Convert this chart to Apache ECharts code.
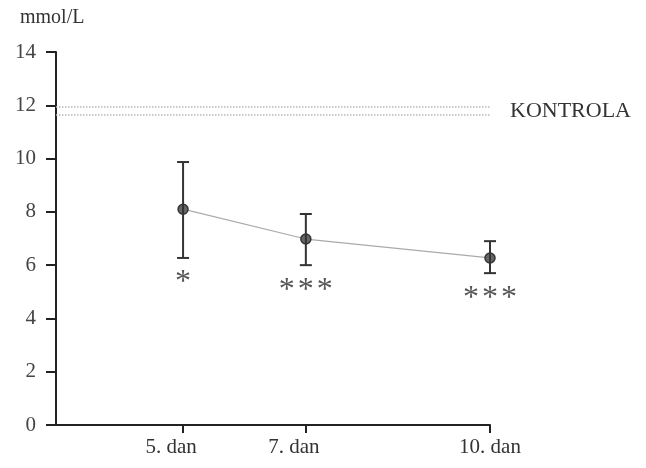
<!DOCTYPE html>
<html>
<head>
<meta charset="utf-8">
<script src="https://cdn.jsdelivr.net/npm/echarts@6/dist/echarts.min.js"></script>
<style>html,body{margin:0;padding:0;background:#fff}#c{width:646px;height:468px}</style>
</head>
<body>
<div id="c"></div>
<script>
// Data
var days = [5, 7, 10];
var dayLabels = ['5. dan', '7. dan', '10. dan'];
var means = [8.1, 6.98, 6.27];
var lows = [6.27, 6.0, 5.7];
var highs = [9.87, 7.92, 6.9];
var stars = ['*', '***', '***'];
var controlUpper = 11.93;
var controlLower = 11.66;
var controlLabel = 'KONTROLA';
var yTicks = [0, 2, 4, 6, 8, 10, 12, 14];

var FONT = 'Liberation Serif';
var labelShift = {5: 24, 7: 24, 10: 0};

var meanData = days.map(function (d, i) { return [d, means[i]]; });
var errData = days.map(function (d, i) { return [d, lows[i], highs[i]]; });
var starData = days.map(function (d, i) { return [d, lows[i], i]; });

var chart = echarts.init(document.getElementById('c'));
chart.setOption({
  animation: false,
  backgroundColor: '#fff',
  title: {
    text: 'mmol/L', left: 15, top: 3,
    textStyle: { fontFamily: FONT, fontSize: 20, fontWeight: 'normal', color: '#333' }
  },
  grid: { left: 56, right: 156, top: 52, bottom: 43, containLabel: false },
  xAxis: {
    type: 'value', min: 2.93, max: 10,
    axisLine: { lineStyle: { color: '#222', width: 2 } },
    axisTick: { show: true, customValues: days, length: 8, lineStyle: { color: '#222', width: 2 } },
    axisLabel: {
      customValues: days, margin: 12,
      formatter: function (v) { var i = days.indexOf(v); return '{a' + v + '|' + dayLabels[i] + '}'; },
      rich: {
        a5: { fontFamily: FONT, fontSize: 21, color: '#333', padding: [0, labelShift[5], 0, 0] },
        a7: { fontFamily: FONT, fontSize: 21, color: '#333', padding: [0, labelShift[7], 0, 0] },
        a10: { fontFamily: FONT, fontSize: 21, color: '#333', padding: [0, labelShift[10], 0, 0] }
      }
    },
    splitLine: { show: false }
  },
  yAxis: {
    type: 'value', min: 0, max: 14, interval: 2,
    axisLine: { show: true, lineStyle: { color: '#222', width: 2 } },
    axisTick: { show: true, length: 10, lineStyle: { color: '#222', width: 2 } },
    axisLabel: { margin: 20, fontFamily: FONT, fontSize: 21, color: '#444' },
    splitLine: { show: false }
  },
  series: [
    {
      type: 'line', data: meanData, z: 3,
      lineStyle: { color: '#aaa', width: 1.2 },
      symbol: 'circle', symbolSize: 10,
      itemStyle: { color: '#666', borderColor: '#333', borderWidth: 1.5 },
      markLine: {
        silent: true, symbol: 'none', animation: false,
        lineStyle: { color: '#b8b8b8', type: 'dotted', width: 1.5 },
        data: [
          { yAxis: controlUpper, label: { show: true, formatter: controlLabel, position: 'end', distance: 20, offset: [0, 4],
            fontFamily: FONT, fontSize: 22, color: '#333' } },
          { yAxis: controlLower, label: { show: false } }
        ]
      }
    },
    {
      type: 'custom', data: errData, z: 4,
      renderItem: function (params, api) {
        var x = api.value(0);
        var lo = api.coord([x, api.value(1)]);
        var hi = api.coord([x, api.value(2)]);
        var w = 6;
        var st = { stroke: '#333', lineWidth: 2 };
        return { type: 'group', children: [
          { type: 'line', shape: { x1: lo[0], y1: lo[1], x2: hi[0], y2: hi[1] }, style: st },
          { type: 'line', shape: { x1: lo[0] - w, y1: lo[1], x2: lo[0] + w, y2: lo[1] }, style: st },
          { type: 'line', shape: { x1: hi[0] - w, y1: hi[1], x2: hi[0] + w, y2: hi[1] }, style: st }
        ]};
      }
    },
    {
      type: 'custom', data: starData, z: 4,
      renderItem: function (params, api) {
        var x = api.value(0);
        var p = api.coord([x, api.value(1)]);
        var s = stars[api.value(2)];
        var n = s.length, gap = 19;
        var kids = [];
        for (var k = 0; k < n; k++) {
          kids.push({ type: 'text', style: {
            text: '*', x: p[0] + (k - (n - 1) / 2) * gap, y: p[1] + 25,
            align: 'center', verticalAlign: 'middle',
            fontFamily: FONT, fontSize: 32, fill: '#555'
          }});
        }
        return { type: 'group', children: kids };
      }
    }
  ]
});
</script>
</body>
</html>
